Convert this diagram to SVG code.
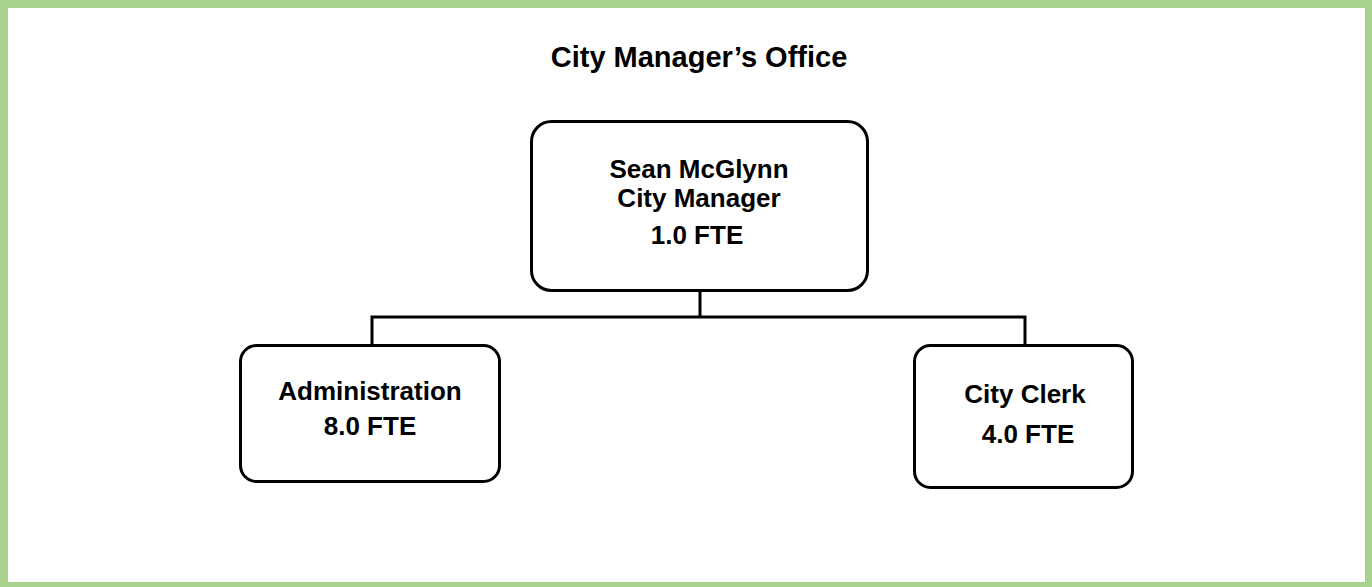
<svg xmlns="http://www.w3.org/2000/svg" width="1372" height="587" viewBox="0 0 1372 587">
<style>
.box{fill:#fff;stroke:#000;stroke-width:3}
.t{font-family:"Liberation Sans",Arial,sans-serif;font-weight:bold;font-size:26px;fill:#000;text-anchor:middle}
.title{font-size:29px}
.conn{fill:none;stroke:#000;stroke-width:3}
</style>
<rect x="0" y="0" width="1372" height="587" fill="#a9d18e"/>
<rect x="8" y="8" width="1357" height="574" fill="#fff"/>
<text class="t title" x="699" y="67">City Manager’s Office</text>
<g id="connectors">
<path class="conn" d="M700,292 V317 M370.5,317 H1026.5 M372,317 V344 M1025,317 V344"/>
</g>
<g id="node-manager">
<rect class="box" x="531.5" y="121.5" width="336" height="169" rx="20"/>
<text class="t" x="699" y="178">Sean McGlynn</text>
<text class="t" x="699" y="207">City Manager</text>
<text class="t" x="697" y="244">1.0 FTE</text>
</g>
<g id="node-administration">
<rect class="box" x="240.5" y="345.5" width="259" height="136" rx="16"/>
<text class="t" x="370" y="400">Administration</text>
<text class="t" x="370" y="435">8.0 FTE</text>
</g>
<g id="node-clerk">
<rect class="box" x="914.5" y="345.5" width="218" height="142" rx="16"/>
<text class="t" x="1025" y="403">City Clerk</text>
<text class="t" x="1028" y="443">4.0 FTE</text>
</g>
</svg>
